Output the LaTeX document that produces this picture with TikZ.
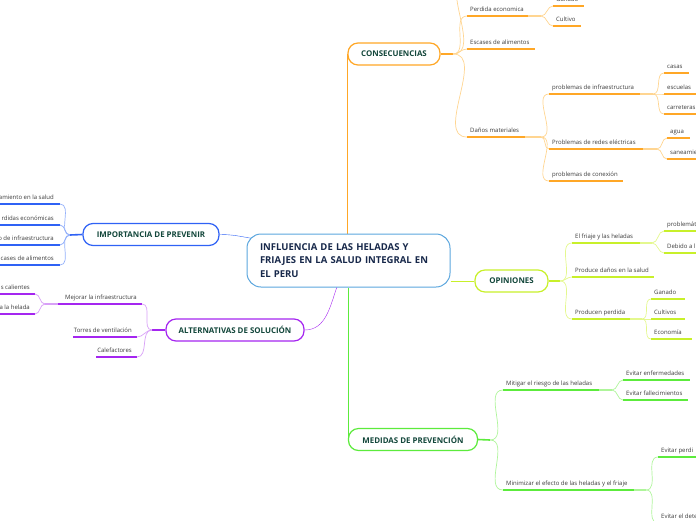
\documentclass[tikz,border=0pt]{standalone}
\usepackage{fontspec}
\setmainfont{Open Sans}
\usepackage{tikz}
\usetikzlibrary{calc,backgrounds}
\definecolor{rootblue}{HTML}{5BA6DE}
\definecolor{rootink}{HTML}{17284A}
\definecolor{topicink}{HTML}{12463A}
\definecolor{leafink}{HTML}{3A3A3A}
\definecolor{consorange}{HTML}{FFA726}
\definecolor{conslight}{HTML}{FFD591}
\definecolor{opingreen}{HTML}{C8F02A}
\definecolor{opinlight}{HTML}{E4F88E}
\definecolor{medgreen}{HTML}{5CEB3C}
\definecolor{medlight}{HTML}{AEF59A}
\definecolor{impblue}{HTML}{2F62F5}
\definecolor{implight}{HTML}{93B0FA}
\definecolor{altpurple}{HTML}{A526F0}
\definecolor{altlight}{HTML}{D8A0F7}

\begin{document}
\begin{tikzpicture}[x=1pt, y=-1pt,
    leaf/.style={font=\fontsize{6}{7}\selectfont, text=leafink, inner sep=0pt, anchor=base west},
    leafl/.style={leaf, anchor=base east},
    topic/.style={draw, rounded corners=10pt, line width=1.2pt, fill=white, text=topicink,
        font=\fontsize{7.9}{9}\selectfont\bfseries, minimum height=22pt, inner sep=0pt},
    ul/.style={line width=1.6pt},
    twig/.style={line width=0.7pt}]
    \useasboundingbox (0,0) rectangle (696,520);
    \clip (0,0) rectangle (696,520);

    % --- central idea ---
    \node[draw=rootblue, line width=1pt, rounded corners=14pt, fill=white,
        minimum width=203pt, minimum height=53pt, text width=177pt, align=left,
        text=rootink, font=\fontsize{9.5}{13.5}\selectfont\bfseries]
        (root) at (348.5,260.5) {INFLUENCIA DE LAS HELADAS Y\\FRIAJES EN LA SALUD INTEGRAL EN\\EL PERU};

    % --- main topics ---
    \node[topic, draw=consorange, minimum width=92pt] (cons) at (394,54) {CONSECUENCIAS};
    \node[topic, draw=opingreen, minimum width=73pt] (opin) at (511.5,281) {OPINIONES};
    \node[topic, draw=medgreen, minimum width=129pt] (medi) at (413,439.5) {MEDIDAS DE PREVENCIÓN};
    \node[topic, draw=impblue, minimum width=136pt] (impo) at (151,234.5) {IMPORTANCIA DE PREVENIR};
    \node[topic, draw=altpurple, minimum width=138pt] (alte) at (235,330) {ALTERNATIVAS DE SOLUCIÓN};

    \begin{scope}[on background layer, line width=1.5pt]
        \draw[consorange] (cons.west |- root.north) -- (cons.west);
        \draw[medgreen] (medi.west |- root.south) -- (medi.west);
        \draw[opingreen] (root.east |- opin.west) -- (opin.west);
        \draw[impblue] (impo.east) to[out=0, in=170] ($(root.north west)+(6,5)$);
        \draw[altpurple] (alte.east) to[out=0, in=-110] ($(root.south west)+(91,-2)$);
    \end{scope}

    % --- CONSECUENCIAS ---
    \coordinate (cj) at (453,54);
    \coordinate (upper-a) at (467,-22);
    \draw[ul, consorange] (cons.east) -- (cj);
    \foreach \nm/\xa/\xb/\yy/\txt in {perd/467/528/16/Perdida economica,
        esca/467/535/49/Escases de alimentos, dano/467/525/137/Daños materiales,
        gana/553/584/6/Ganado, cult/553/581/26/Cultivo,
        infr/549/640/94/problemas de infraestructura,
        rede/549/643/149/Problemas de redes eléctricas,
        cone/549/623/181/problemas de conexión,
        casa/664/689/73/casas, escu/664/700/94/escuelas, carr/664/700/114/carreteras,
        agua/667/690/138/agua, sane/667/700/159/saneamie}{
        \coordinate (\nm-a) at (\xa,\yy);
        \coordinate (\nm-b) at (\xb,\yy);
        \draw[ul, consorange] (\nm-a) -- (\nm-b);
        \node[leaf] (\nm) at (\xa+3,\yy-4.5) {\txt};
    }
    \coordinate (pj) at (541,16);
    \coordinate (dj) at (541,137);
    \coordinate (ij) at (653,94);
    \coordinate (rj) at (657,149);
    \draw[ul, conslight] (perd-b) -- (pj);
    \draw[ul, conslight] (dano-b) -- (dj);
    \draw[ul, conslight] (infr-b) -- (ij);
    \draw[ul, conslight] (rede-b) -- (rj);
    \foreach \nm in {upper,perd,esca,dano}
        \draw[twig, conslight] (cj) to[out=0, in=180] (\nm-a);
    \foreach \nm in {gana,cult}
        \draw[twig, conslight] (pj) to[out=0, in=180] (\nm-a);
    \foreach \nm in {infr,rede,cone}
        \draw[twig, conslight] (dj) to[out=0, in=180] (\nm-a);
    \foreach \nm in {casa,escu,carr}
        \draw[twig, conslight] (ij) to[out=0, in=180] (\nm-a);
    \foreach \nm in {agua,sane}
        \draw[twig, conslight] (rj) to[out=0, in=180] (\nm-a);

    % --- OPINIONES ---
    \coordinate (oj) at (560,281);
    \draw[ul, opingreen] (opin.east) -- (oj);
    \foreach \nm/\xa/\xb/\yy/\txt in {fria/572/640/243/El friaje y las heladas,
        prod/572/654/277/Produce daños en la salud, pper/572/630/319/Producen perdida,
        prob/664/700/231/problemát, debi/664/700/253/Debido a l,
        ogan/651/685/299/Ganado, ocul/651/685/319/Cultivos, econ/651/692/339/Economía}{
        \coordinate (\nm-a) at (\xa,\yy);
        \coordinate (\nm-b) at (\xb,\yy);
        \draw[ul, opingreen] (\nm-a) -- (\nm-b);
        \node[leaf] (\nm) at (\xa+3,\yy-4.5) {\txt};
    }
    \coordinate (fj) at (652,243);
    \coordinate (ppj) at (642,319);
    \draw[ul, opinlight] (fria-b) -- (fj);
    \draw[ul, opinlight] (pper-b) -- (ppj);
    \foreach \nm in {fria,prod,pper}
        \draw[twig, opinlight] (oj) to[out=0, in=180] (\nm-a);
    \foreach \nm in {prob,debi}
        \draw[twig, opinlight] (fj) to[out=0, in=180] (\nm-a);
    \foreach \nm in {ogan,ocul,econ}
        \draw[twig, opinlight] (ppj) to[out=0, in=180] (\nm-a);

    % --- MEDIDAS DE PREVENCION ---
    \coordinate (mj) at (490,440);
    \draw[ul, medgreen] (medi.east) -- (mj);
    \foreach \nm/\xa/\xb/\yy/\txt in {miti/503/599/390/Mitigar el riesgo de las heladas,
        mini/503/634/490/Minimizar el efecto de las heladas y el friaje,
        enfe/623/690/380/Evitar enfermedades, fall/623/688/400/Evitar fallecimientos,
        evpe/658/700/457/Evitar perdi, evde/658/700/523/Evitar el dete}{
        \coordinate (\nm-a) at (\xa,\yy);
        \coordinate (\nm-b) at (\xb,\yy);
        \draw[ul, medgreen] (\nm-a) -- (\nm-b);
        \node[leaf] (\nm) at (\xa+3,\yy-4.5) {\txt};
    }
    \coordinate (mij) at (612,390);
    \coordinate (mnj) at (646,490);
    \draw[ul, medlight] (miti-b) -- (mij);
    \draw[ul, medlight] (mini-b) -- (mnj);
    \foreach \nm in {miti,mini}
        \draw[twig, medlight] (mj) to[out=0, in=180] (\nm-a);
    \foreach \nm in {enfe,fall}
        \draw[twig, medlight] (mij) to[out=0, in=180] (\nm-a);
    \foreach \nm in {evpe,evde}
        \draw[twig, medlight] (mnj) to[out=0, in=180] (\nm-a);

    % --- IMPORTANCIA DE PREVENIR ---
    \coordinate (pvj) at (70,235);
    \draw[ul, impblue] (impo.west) -- (pvj);
    \foreach \nm/\yy/\txt in {isal/204/amiento en la salud, ieco/225/rdidas económicas,
        iinf/245/o de infraestructura, iali/265/cases de alimentos}{
        \coordinate (\nm-a) at (60,\yy);
        \coordinate (\nm-b) at (-5,\yy);
        \draw[ul, impblue] (\nm-a) -- (\nm-b);
        \node[leafl] (\nm) at (54,\yy-4.5) {\txt};
        \draw[twig, implight] (pvj) to[out=180, in=0] (\nm-a);
    }

    % --- ALTERNATIVAS DE SOLUCION ---
    \coordinate (aj) at (152,330);
    \draw[ul, altpurple] (alte.west) -- (aj);
    \foreach \nm/\xa/\xb/\yy/\txt in {mejo/142/58/304/Mejorar la infraestructura,
        torr/137/73/337/Torres de ventilación, calf/137/96/357/Calefactores,
        cali/35/-5/294/s calientes, hela/35/-5/314/a la helada}{
        \coordinate (\nm-a) at (\xa,\yy);
        \coordinate (\nm-b) at (\xb,\yy);
        \draw[ul, altpurple] (\nm-a) -- (\nm-b);
        \node[leafl] (\nm) at (\xa-5,\yy-4.5) {\txt};
    }
    \coordinate (mej) at (45,304);
    \draw[ul, altlight] (mejo-b) -- (mej);
    \foreach \nm in {mejo,torr,calf}
        \draw[twig, altlight] (aj) to[out=180, in=0] (\nm-a);
    \foreach \nm in {cali,hela}
        \draw[twig, altlight] (mej) to[out=180, in=0] (\nm-a);
\end{tikzpicture}
\end{document}
